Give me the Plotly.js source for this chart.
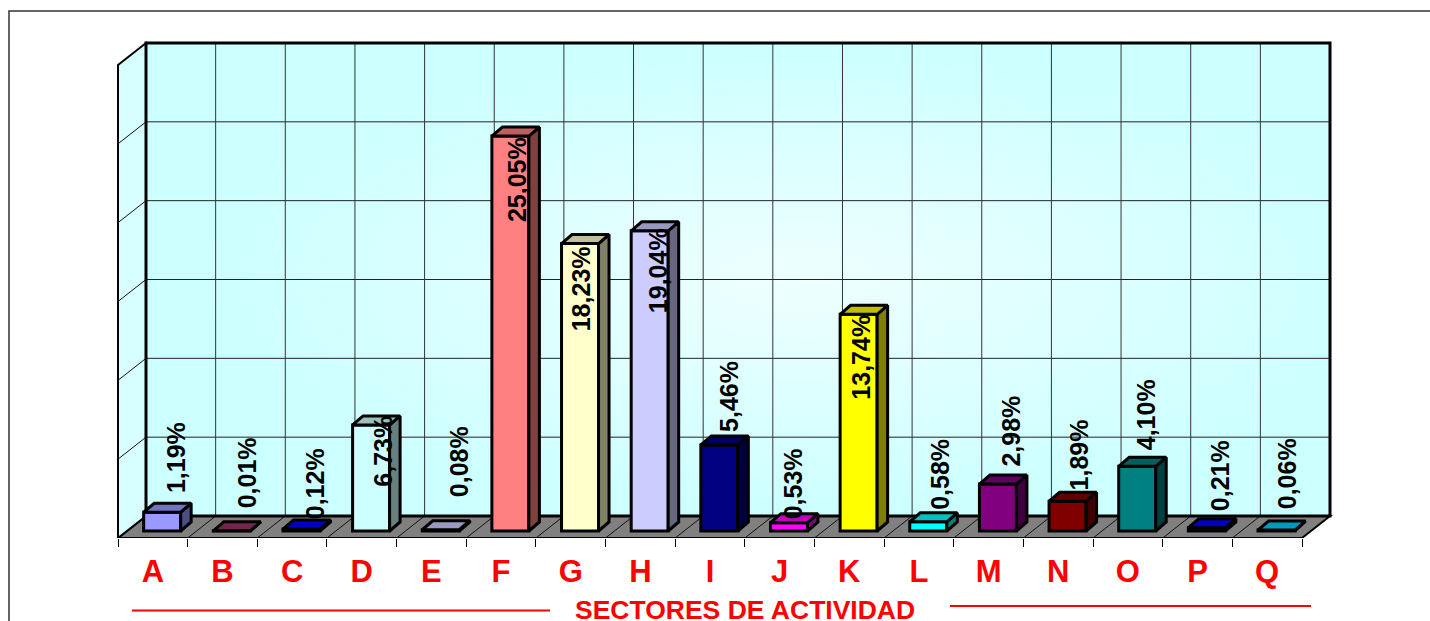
<!DOCTYPE html>
<html><head><meta charset="utf-8">
<script src="https://cdn.plot.ly/plotly-3.0.1.min.js"></script>
<style>html,body{margin:0;padding:0;background:#fff;overflow:hidden}#chart{width:1430px;height:621px}</style>
</head><body><div id="chart"></div>
<script>
const categories = ['A','B','C','D','E','F','G','H','I','J','K','L','M','N','O','P','Q'];
const values = [1.19,0.01,0.12,6.73,0.08,25.05,18.23,19.04,5.46,0.53,13.74,0.58,2.98,1.89,4.10,0.21,0.06];
const labels = ['1,19%','0,01%','0,12%','6,73%','0,08%','25,05%','18,23%','19,04%','5,46%','0,53%','13,74%','0,58%','2,98%','1,89%','4,10%','0,21%','0,06%'];
const barColors = ['#9999FF','#993366','#0000FF','#CCFFFF','#CCCCFF','#FF8080','#FFFFCC','#CCCCFF','#000080','#FF00FF','#FFFF00','#00FFFF','#800080','#800000','#008080','#0000FF','#00CCFF'];
const labelShiftX = [23,24,23,21,27,16,10,17,19,13,12,21,22,21,18,22,20];
const labelShiftY = [55,58,45,-26,68,-44,-45,-40,48,39,-43,48,53,46,52,52,56];
const gridStep = 5, gridCount = 6;

// pixel frame of the plot
const W = 1430, H = 621, PAD = 6;
const frontL = 118, frontB = 538, backL = 146, backB = 516, backT = 43, backR = 1330;
const catPx = (1302 - 118) / 17, valPx = 473 / 30;
const plotL = frontL - PAD, plotR = backR + PAD, plotT = backT - PAD, plotB = frontB;
const xRange = [-0.5 - PAD / catPx, -0.5 + (plotR - frontL) / catPx];
const yRange = [0, (plotB - plotT) / valPx];
const depthX = (backL - frontL) / catPx, depthY = (frontB - backB) / valPx;
const nCat = categories.length;
const topV = gridStep * gridCount;
const px = v => (v - plotL) / (plotR - plotL), py = v => (plotB - v) / (plotB - plotT);

function shade(hex, f) {
  const n = parseInt(hex.slice(1), 16);
  return `rgb(${Math.round((n >> 16) * f)},${Math.round(((n >> 8) & 255) * f)},${Math.round((n & 255) * f)})`;
}
function gradient() {
  const c = document.createElement('canvas');
  const w = c.width = backR - backL, h = c.height = backB - backT;
  const g = c.getContext('2d');
  g.scale(1, h / w);
  const r = g.createRadialGradient(w * 0.55, w * 0.5, 0, w * 0.55, w * 0.5, w * 0.5);
  r.addColorStop(0, '#EEFFFF'); r.addColorStop(1, '#CCFFFF');
  g.fillStyle = r; g.fillRect(0, 0, w, w);
  return c.toDataURL();
}

const line = (x0, y0, x1, y1, color, width, xref) => ({type:'line', layer:'below', xref:xref||'x', yref:'y', x0, y0, x1, y1, line:{color, width}});
const shapes = [];
const poly = (pts, fill, lw) => ({type:'path', layer:'below', xref:'x', yref:'y', fillcolor:fill, line:{color:'#000', width:lw},
  path:'M' + pts.map(p => p.join(',')).join('L') + 'Z'});
const L = -0.5, R = nCat - 0.5;
shapes.push(poly([[L,0],[L+depthX,depthY],[R+depthX,depthY],[R,0]], '#808080', 2));
shapes.push(poly([[L,topV],[L+depthX,topV+depthY],[L+depthX,depthY],[L,0]], '#D8FFFF', 2));
for (let k = 1; k < gridCount; k++) {
  const v = k * gridStep;
  shapes.push(line(L, v, L + depthX, v + depthY, '#111', 1));
  shapes.push(line(L + depthX, v + depthY, R + depthX, v + depthY, '#222', 1));
}
for (let i = 1; i < nCat; i++) {
  shapes.push(line(L + i, 0, L + i + depthX, depthY, '#111', 1));
  shapes.push(line(L + i + depthX, depthY, L + i + depthX, topV + depthY, '#333', 1));
}
shapes.push({type:'rect', layer:'below', xref:'x', yref:'y', x0:L+depthX, x1:R+depthX, y0:depthY, y1:topV+depthY, line:{color:'#000', width:3}});
// outer frame and title rules
shapes.push({type:'rect', layer:'below', xref:'paper', yref:'paper', x0:px(9), x1:px(1450), y0:py(650), y1:py(11), line:{color:'#333', width:1.5}});
shapes.push({type:'line', layer:'below', xref:'paper', yref:'paper', x0:px(132), x1:px(550), y0:py(610.5), y1:py(610.5), line:{color:'#FF0000', width:2}});
shapes.push({type:'line', layer:'below', xref:'paper', yref:'paper', x0:px(950), x1:px(1311), y0:py(606), y1:py(606), line:{color:'#FF0000', width:2}});

// bars: front face goes through the bar trace, side and top faces through the same scales
const offF = 1 / 3, barW = 37 / catPx;
const frontDX = depthX * offF, baseY = 7 / valPx, sideX = 10.5 / catPx, sideY = 9 / valPx;
const traces = [{
  type:'bar', x:categories, y:values, base:categories.map(() => baseY), width:barW,
  offset:frontDX - barW / 2, marker:{color:barColors, line:{color:'#000', width:3}},
  hoverinfo:'skip', showlegend:false
}];
values.forEach((v, i) => {
  const x0 = i + frontDX - barW / 2, x1 = x0 + barW, y0 = baseY, y1 = baseY + v;
  const face = (xs, ys, f) => traces.push({type:'scatter', mode:'lines', xaxis:'x2', yaxis:'y', x:xs, y:ys, fill:'toself',
    fillcolor:shade(barColors[i], f), line:{color:'#000', width:3}, hoverinfo:'skip', showlegend:false});
  face([x1, x1+sideX, x1+sideX, x1, x1], [y0, y0+sideY, y1+sideY, y1, y0], 0.5);
  face([x0, x0+sideX, x1+sideX, x1, x0], [y1, y1+sideY, y1+sideY, y1, y1], 0.75);
});

const annotations = values.map((v, i) => ({
  xref:'x', yref:'y', x:i, y:v + baseY, text:labels[i], textangle:-90, showarrow:false,
  xanchor:'center', yanchor:'middle', xshift:labelShiftX[i], yshift:labelShiftY[i],
  font:{family:'Liberation Sans, Arial, sans-serif', size:25, weight:'bold', color:'#000'}
}));
annotations.push({xref:'paper', yref:'paper', x:px(745), y:py(609.5), text:'SECTORES DE ACTIVIDAD', showarrow:false, xanchor:'center', yanchor:'middle', height:22, borderpad:0,
  font:{family:'Liberation Sans, Arial, sans-serif', size:26.5, weight:'bold', color:'#FF0000'}});

const layout = {
  width:W, height:H, margin:{l:plotL, r:W-plotR, t:plotT, b:H-plotB, pad:0},
  paper_bgcolor:'#fff', plot_bgcolor:'rgba(0,0,0,0)', showlegend:false, barmode:'overlay', dragmode:false,
  xaxis:{type:'category', categoryorder:'array', categoryarray:categories, range:xRange, tickson:'boundaries', ticks:'outside', ticklen:8, tickwidth:1, tickcolor:'#000',
    showgrid:false, zeroline:false, showline:false, ticklabelstandoff:12, tickfont:{family:'Liberation Sans, Arial, sans-serif', size:31, weight:'bold', color:'#FF0000'}, fixedrange:true, automargin:false},
  xaxis2:{overlaying:'x', range:xRange, visible:false, fixedrange:true},
  yaxis:{range:yRange, visible:false, fixedrange:true},
  shapes, annotations,
  images:[{source:gradient(), xref:'paper', yref:'paper', x:px(backL), y:py(backT), sizex:px(backR)-px(backL), sizey:py(backT)-py(backB), sizing:'stretch', xanchor:'left', yanchor:'top', layer:'below'}]
};
Plotly.newPlot('chart', traces, layout, {displayModeBar:false, staticPlot:true});
</script></body></html>
